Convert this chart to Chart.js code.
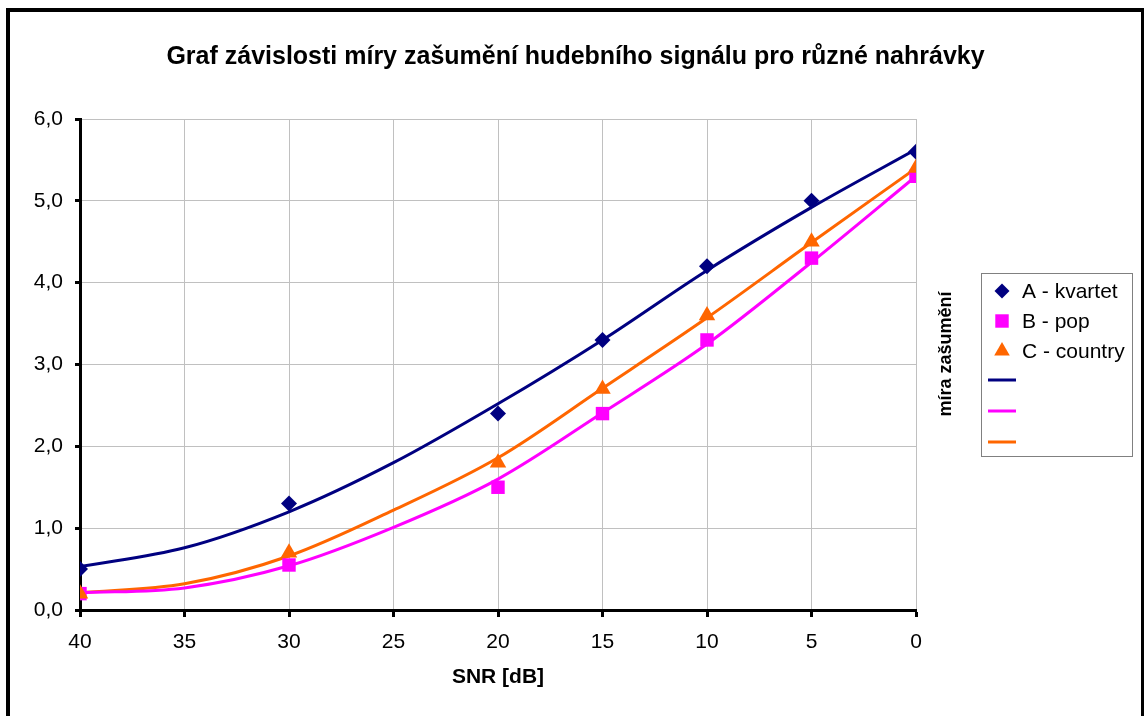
<!DOCTYPE html>
<html>
<head>
<meta charset="utf-8">
<script src="https://cdn.jsdelivr.net/npm/chart.js@4/dist/chart.umd.min.js"></script>
<style>
  body { margin: 0; background: #fff; }
  #frame {
    position: absolute; left: 6px; top: 8px;
    width: 1138px; height: 712px;
    border: 4px solid #000; border-right-width: 3px;
    box-sizing: border-box;
  }
  #wrap { width: 1131px; height: 704px; }
</style>
</head>
<body>
<div id="frame"><div id="wrap"><canvas id="myChart"></canvas></div></div>
<script>
// measured points
const snr = [40, 30, 20, 15, 10, 5, 0];
const kvartet = [0.5, 1.3, 2.4, 3.3, 4.2, 5.0, 5.6];
const pop = [0.2, 0.55, 1.5, 2.4, 3.3, 4.3, 5.3];
const country = [0.2, 0.7, 1.8, 2.7, 3.6, 4.5, 5.4];

// trend curves
const trendSnr = [40, 35, 30, 25, 20, 15, 10, 5, 0];
const kvartetTrend = [0.53, 0.76, 1.2, 1.8, 2.52, 3.3, 4.15, 4.92, 5.63];
const popTrend = [0.21, 0.27, 0.54, 1.01, 1.6, 2.41, 3.25, 4.25, 5.3];
const countryTrend = [0.21, 0.32, 0.66, 1.22, 1.86, 2.71, 3.57, 4.49, 5.4];

const yTicks = ['0,0', '1,0', '2,0', '3,0', '4,0', '5,0', '6,0'];
const legendNames = ['A - kvartet', 'B - pop', 'C - country'];

const NAVY = '#000080', MAGENTA = '#ff00ff', ORANGE = '#ff6600';
const FONT = "'Liberation Sans', Arial, sans-serif";

const pts = (xs, ys) => xs.map((x, i) => ({ x: x, y: ys[i] }));

const markerSet = (label, xs, ys, color, style, r, order) => ({
  label: label, data: pts(xs, ys), showLine: false, order: order,
  pointStyle: style, pointRadius: r, pointHoverRadius: r,
  pointBackgroundColor: color, pointBorderColor: color, borderColor: color, pointBorderWidth: 0
});
const trendSet = (xs, ys, color, order) => ({
  label: '', data: pts(xs, ys), order: order, borderColor: color, borderWidth: 3,
  pointRadius: 0, cubicInterpolationMode: 'monotone', fill: false
});

// legend + rotated y title (Excel puts it next to the legend)
const extras = {
  id: 'extras',
  afterDraw(chart) {
    const ctx = chart.ctx;
    ctx.save();
    ctx.font = 'bold 18px ' + FONT;
    ctx.fillStyle = '#000';
    ctx.textAlign = 'center';
    ctx.textBaseline = 'middle';
    ctx.translate(936, 342);
    ctx.rotate(-Math.PI / 2);
    ctx.fillText('míra zašumění', 0, 0);
    ctx.restore();

    ctx.save();
    ctx.strokeStyle = '#808080';
    ctx.lineWidth = 1;
    ctx.strokeRect(971.5, 261.5, 151, 183);
    const marks = [[NAVY, 'rectRot', 7.5], [MAGENTA, 'rect', 9.5], [ORANGE, 'triangle', 9]];
    ctx.font = '21px ' + FONT;
    ctx.textAlign = 'left';
    ctx.textBaseline = 'middle';
    marks.forEach((m, i) => {
      const y = 279 + i * 30;
      ctx.fillStyle = m[0];
      ctx.strokeStyle = m[0];
      Chart.helpers.drawPoint(ctx, { pointStyle: m[1], radius: m[2], borderWidth: 0, rotation: 0 }, 992, y);
      ctx.fillStyle = '#000';
      ctx.fillText(legendNames[i], 1012, y + 1);
    });
    [NAVY, MAGENTA, ORANGE].forEach((c, i) => {
      const y = 368 + i * 31;
      ctx.strokeStyle = c;
      ctx.lineWidth = 3;
      ctx.beginPath();
      ctx.moveTo(978, y);
      ctx.lineTo(1006, y);
      ctx.stroke();
    });
    ctx.restore();
  }
};

new Chart(document.getElementById('myChart'), {
  type: 'line',
  data: {
    datasets: [
      markerSet(legendNames[0], snr, kvartet, NAVY, 'rectRot', 8, 2),
      markerSet(legendNames[1], snr, pop, MAGENTA, 'rect', 9.5, 1),
      markerSet(legendNames[2], snr, country, ORANGE, 'triangle', 9.5, 0),
      trendSet(trendSnr, kvartetTrend, NAVY, 3),
      trendSet(trendSnr, popTrend, MAGENTA, 4),
      trendSet(trendSnr, countryTrend, ORANGE, 5)
    ]
  },
  options: {
    responsive: true,
    maintainAspectRatio: false,
    animation: false,
    layout: { padding: 0 },
    plugins: {
      legend: { display: false },
      tooltip: { enabled: false },
      title: {
        display: true,
        text: 'Graf závislosti míry zašumění hudebního signálu pro různé nahrávky',
        color: '#000',
        font: { family: FONT, size: 25, weight: 'bold' },
        padding: { top: 30, bottom: 47 }
      }
    },
    scales: {
      x: {
        type: 'linear', reverse: true, min: 0, max: 40,
        afterFit: s => { s.height = 106; },
        grid: { color: '#c0c0c0', lineWidth: 1, tickColor: '#000', tickWidth: 3, tickLength: 7 },
        border: { color: '#000', width: 3 },
        ticks: { stepSize: 5, color: '#000', padding: 13, font: { family: FONT, size: 21 }, maxRotation: 0 },
        title: {
          display: true, text: 'SNR [dB]', color: '#000',
          font: { family: FONT, size: 21, weight: 'bold' },
          padding: { top: 0, bottom: 26 }
        }
      },
      y: {
        min: 0, max: 6,
        afterFit: s => { s.width = 70; },
        grid: { color: '#c0c0c0', lineWidth: 1, tickColor: '#000', tickWidth: 3, tickLength: 5 },
        border: { color: '#000', width: 3 },
        ticks: {
          stepSize: 1, color: '#000', padding: 12, font: { family: FONT, size: 21 },
          callback: (v) => yTicks[Math.round(v)]
        }
      },
      // empty space on the right for the legend block
      side: {
        position: 'right', min: 0, max: 6,
        afterFit: s => { s.width = 225; },
        grid: { display: false },
        border: { display: false },
        ticks: { display: false }
      }
    }
  },
  plugins: [extras]
});
</script>
</body>
</html>
